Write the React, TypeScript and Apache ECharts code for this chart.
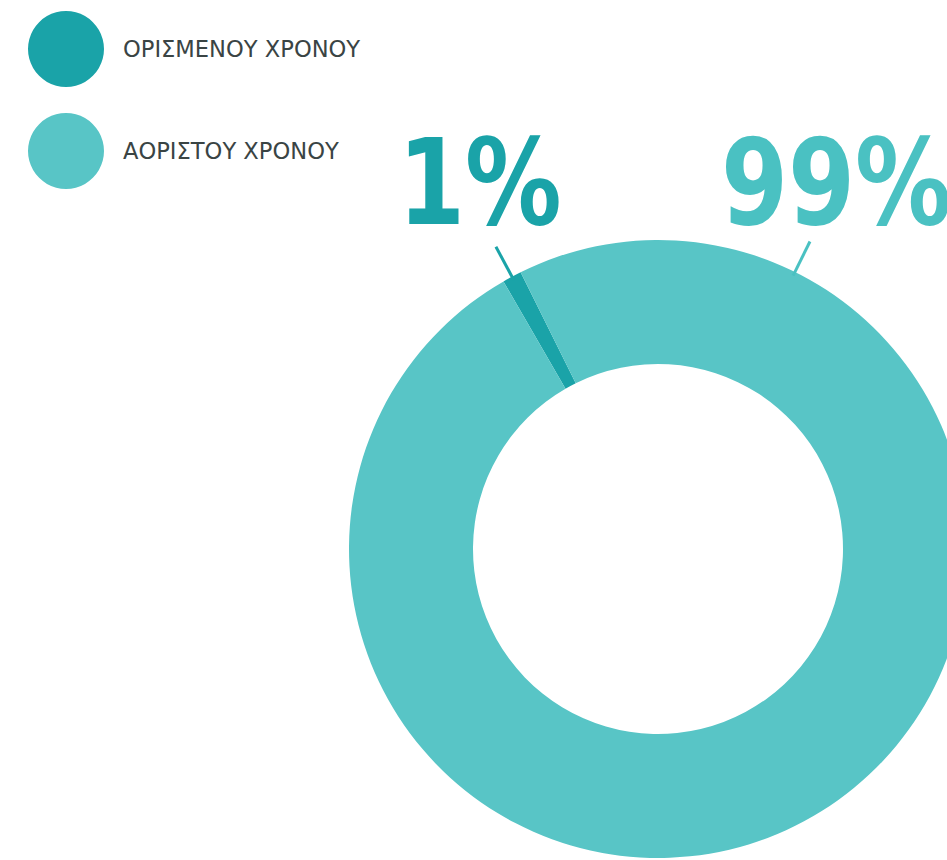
import React, { useEffect, useRef } from "react";
import * as echarts from "echarts";

// ---- data ----
const categories: string[] = ["ΟΡΙΣΜΕΝΟΥ ΧΡΟΝΟΥ", "ΑΟΡΙΣΤΟΥ ΧΡΟΝΟΥ"];
const values: number[] = [1, 99];
const labelTexts: string[] = values.map((v) => `${v}%`);

// ---- styles ----
const sliceColors = ["#1aa3a8", "#58c5c6"];
const labelColors = ["#1aa3a8", "#4ac1c2"];

export default function App() {
  const ref = useRef<HTMLDivElement>(null);

  useEffect(() => {
    document.body.style.margin = "0";
    const chart = echarts.init(ref.current!, null, { renderer: "svg" });

    const cx = 658;
    const cy = 549;
    const rOuter = 309;
    const rInner = 185;
    // label leader angles, degrees from 12 o'clock, counter-clockwise positive
    const leaderAngles = [28.2, -26.3];
    const labelLeft = [398, 721];
    const labelMiddleY = 183;

    const graphic: any[] = [];
    values.forEach((_, i) => {
      const a = (leaderAngles[i] * Math.PI) / 180;
      const r1 = rOuter - 4;
      const r2 = rOuter + 34;
      graphic.push({
        type: "line",
        z: 5,
        shape: {
          x1: cx - Math.sin(a) * r1,
          y1: cy - Math.cos(a) * r1,
          x2: cx - Math.sin(a) * r2,
          y2: cy - Math.cos(a) * r2,
        },
        style: { stroke: labelColors[i], lineWidth: 3 },
      });
      graphic.push({
        type: "text",
        z: 10,
        x: labelLeft[i],
        y: labelMiddleY,
        scaleX: 0.81,
        style: {
          text: labelTexts[i],
          fill: labelColors[i],
          fontSize: 119,
          fontWeight: "bold",
          fontFamily: "DejaVu Sans",
          verticalAlign: "middle",
          align: "left",
        },
      });
    });

    chart.setOption({
      animation: false,
      backgroundColor: "#ffffff",
      color: sliceColors,
      legend: {
        orient: "vertical",
        left: 23,
        top: 6,
        itemWidth: 104,
        itemHeight: 76,
        itemGap: 26,
        icon: "circle",
        symbolKeepAspect: true,
        selectedMode: false,
        data: categories,
        textStyle: {
          fontSize: 22.6,
          color: "#3a4444",
          fontFamily: "DejaVu Sans",
        },
      },
      series: [
        {
          type: "pie",
          center: [cx, cy],
          radius: [rInner, rOuter],
          startAngle: 120,
          clockwise: true,
          silent: true,
          label: { show: false },
          labelLine: { show: false },
          emphasis: { disabled: true },
          itemStyle: { borderWidth: 0 },
          data: categories.map((name, i) => ({
            name,
            value: values[i],
            itemStyle: { color: sliceColors[i] },
          })),
        },
      ],
      graphic,
    });

    return () => chart.dispose();
  }, []);

  return (
    <div
      ref={ref}
      style={{ position: "fixed", left: 0, top: 0, width: 947, height: 860 }}
    />
  );
}
